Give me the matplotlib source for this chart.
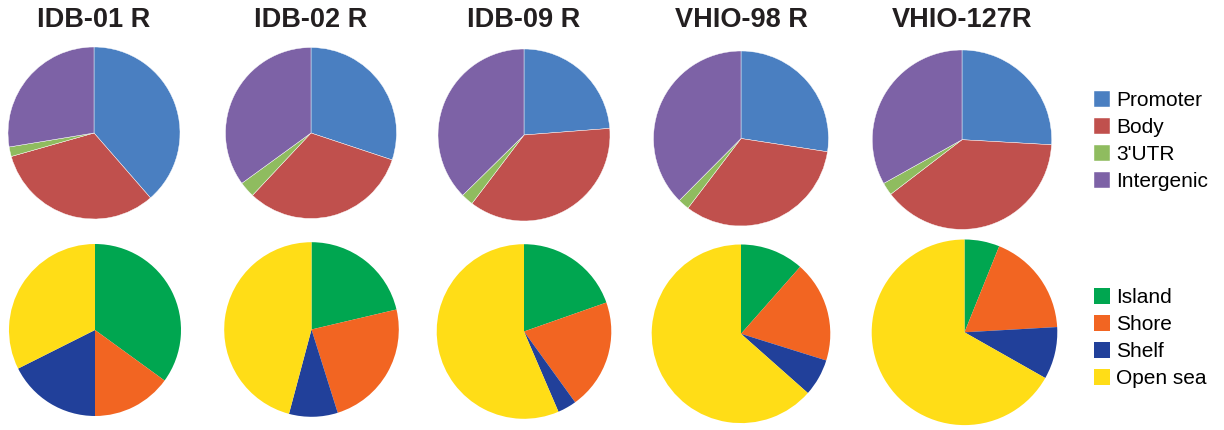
import numpy as np
import matplotlib
matplotlib.use("Agg")
import matplotlib.pyplot as plt

# samples
samples = ["IDB-01 R", "IDB-02 R", "IDB-09 R", "VHIO-98 R", "VHIO-127R"]

# genomic region (percent)
region_labels = ["Promoter", "Body", "3'UTR", "Intergenic"]
region_colors = ["#4a7fc1", "#c0504d", "#8fbc5f", "#7d62a6"]
promoter = [38.6, 30.1, 23.8, 27.4, 25.9]
body = [32.0, 31.9, 36.6, 32.9, 38.7]
utr3 = [1.8, 3.0, 2.3, 2.1, 2.3]
intergenic = [27.6, 35.0, 37.4, 37.5, 33.1]

# CpG context (percent)
cpg_labels = ["Island", "Shore", "Shelf", "Open sea"]
cpg_colors = ["#00a650", "#f26522", "#21409a", "#ffdd17"]
island = [35.0, 21.3, 19.6, 11.5, 6.1]
shore = [15.0, 23.8, 20.4, 18.3, 18.0]
shelf = [17.6, 9.0, 3.5, 6.7, 9.1]
open_sea = [32.4, 45.8, 56.4, 63.4, 66.8]

plt.rcParams['font.family'] = ['Liberation Sans', 'DejaVu Sans']

W, H = 1224, 430
fig = plt.figure(figsize=(W / 100, H / 100), dpi=100)

# pie placement in pixels
cx_top = [94, 311, 524, 741, 962]
cy_top = [133, 133, 135, 138.5, 139.7]
r_top = [86, 85.5, 86, 87.5, 89.7]
cx_bot = [95, 311.5, 524, 741, 964.5]
cy_bot = [330, 329.5, 331.5, 333.8, 332.3]
r_bot = [86, 87.3, 87.3, 89.3, 92.8]


def pie_ax(x, y, r):
    return fig.add_axes([(x - r) / W, 1 - (y + r) / H, 2 * r / W, 2 * r / H])


top_wedges = None
bot_wedges = None
for i, name in enumerate(samples):
    ax = pie_ax(cx_top[i], cy_top[i], r_top[i])
    vals = [promoter[i], body[i], utr3[i], intergenic[i]]
    w, _ = ax.pie(vals, colors=region_colors, startangle=90, counterclock=False,
                  wedgeprops=dict(edgecolor='white', linewidth=0.3))
    ax.set_xlim(-1, 1)
    ax.set_ylim(-1, 1)
    top_wedges = w
    fig.text(cx_top[i] / W, 1 - 20 / H, name, ha='center', va='center',
             fontsize=19.5, fontweight='bold', color='#231f20')

    ax2 = pie_ax(cx_bot[i], cy_bot[i], r_bot[i])
    vals2 = [island[i], shore[i], shelf[i], open_sea[i]]
    w2, _ = ax2.pie(vals2, colors=cpg_colors, startangle=90, counterclock=False,
                    wedgeprops=dict(edgecolor='none'))
    ax2.set_xlim(-1, 1)
    ax2.set_ylim(-1, 1)
    bot_wedges = w2

leg_kw = dict(frameon=False, fontsize=15, handlelength=0.78, handleheight=0.78,
              handletextpad=0.3, labelspacing=0.38, borderaxespad=0, borderpad=0)
fig.legend(top_wedges, region_labels, loc='upper left',
           bbox_to_anchor=(1094 / W, 1 - 91 / H), **leg_kw)
fig.legend(bot_wedges, cpg_labels, loc='upper left',
           bbox_to_anchor=(1094 / W, 1 - 288 / H), **leg_kw)

fig.savefig("out.png", dpi=100)
